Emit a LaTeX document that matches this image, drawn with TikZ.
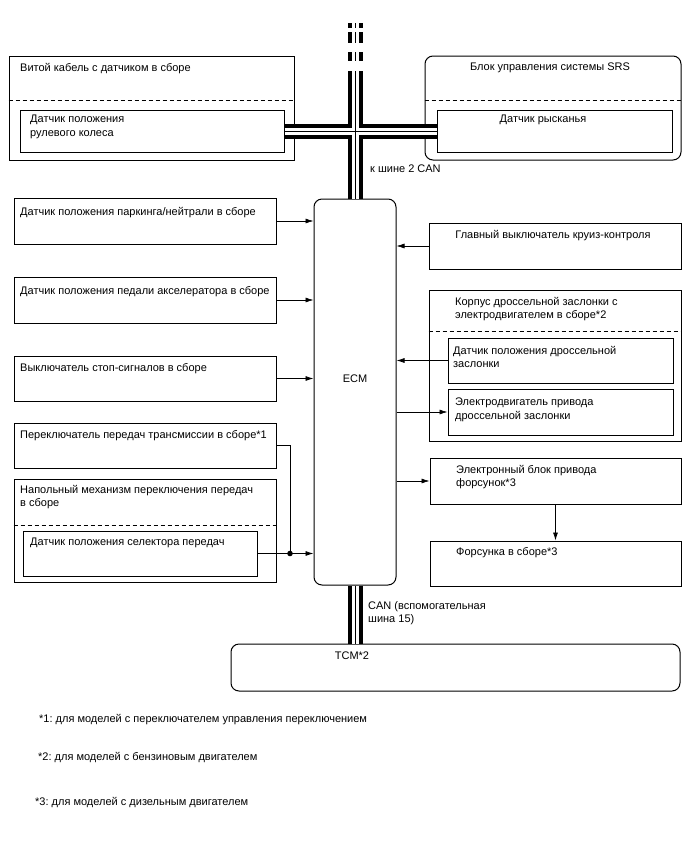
\documentclass[tikz,border=0pt]{standalone}
\usepackage{fontspec}
\setmainfont{Liberation Sans}
\usetikzlibrary{fit,arrows.meta}
\begin{document}
\frenchspacing
\begin{tikzpicture}[x=1pt,y=-1pt,
  bx/.style={draw, line width=1pt, inner sep=0pt},
  rbx/.style={bx, rounded corners=8pt},
  txt/.style={font=\fontsize{11}{13.5}\selectfont, inner sep=0pt, anchor=north west, align=left},
  ctxt/.style={txt, anchor=north, align=center},
  arr/.style={line width=0.7pt, -{Latex[length=8pt,width=5pt]}},
  ln/.style={line width=0.7pt},
  dsh/.style={line width=0.8pt, dash pattern=on 4pt off 3pt}]
\useasboundingbox (0,0) rectangle (688,852);

% boxes
\node[bx, fit={(9,56) (294,160)}] (swc) {};
\node[bx, fit={(20,110) (284,152)}] (swsens) {};
\node[rbx, fit={(425,56) (681,160)}] (srs) {};
\node[bx, fit={(437,110) (672,152)}] (yaw) {};
\node[bx, fit={(14,198) (276,244)}] (pn) {};
\node[bx, fit={(14,277) (276,323)}] (app) {};
\node[bx, fit={(14,356) (276,401)}] (stop) {};
\node[bx, fit={(14,423) (276,468)}] (shift) {};
\node[bx, fit={(14,479) (276,582)}] (floor) {};
\node[bx, fit={(23,531) (257,576)}] (sel) {};
\node[rbx, fit={(314,199) (396,585)}] (ecm) {};
\node[bx, fit={(429,223) (681,269)}] (cruise) {};
\node[bx, fit={(429,290) (681,441)}] (thr) {};
\node[bx, fit={(448,338) (673,383)}] (tps) {};
\node[bx, fit={(448,389) (673,435)}] (tmot) {};
\node[bx, fit={(430,458) (681,504)}] (edu) {};
\node[bx, fit={(430,541) (681,586)}] (inj) {};
\node[rbx, fit={(231,644) (680,691)}] (tcm) {};

% dashed separators
\draw[dsh] (swc.west |- 0,100) -- (swc.east |- 0,100);
\draw[dsh] (srs.west |- 0,100) -- (srs.east |- 0,100);
\draw[dsh] (floor.west |- 0,525) -- (floor.east |- 0,525);
\draw[dsh] (thr.west |- 0,331) -- (thr.east |- 0,331);

% texts
\node[txt] (tswc) at (20,63) {Витой кабель с датчиком в сборе};
\node[txt] (tswsens) at (30,115) {Датчик положения\\рулевого колеса};
\node[ctxt] (tsrs) at (550,63) {Блок управления системы SRS};
\node[ctxt] (tyaw) at (543,115) {Датчик рысканья};
\node[txt] (tcan2) at (370,165) {к шине 2 CAN};
\node[txt] (tpn) at (20,207) {Датчик положения паркинга/нейтрали в сборе};
\node[txt] (tapp) at (20,286) {Датчик положения педали акселератора в сборе};
\node[txt] (tstop) at (20,363) {Выключатель стоп-сигналов в сборе};
\node[txt] (tshift) at (20,430) {Переключатель передач трансмиссии в сборе*1};
\node[txt] (tfloor) at (20,485) {Напольный механизм переключения передач\\в сборе};
\node[txt] (tsel) at (30,538) {Датчик положения селектора передач};
\node[ctxt] (tcruise) at (553,230) {Главный выключатель круиз-контроля};
\node[txt] (tthr) at (455,297) {Корпус дроссельной заслонки с\\электродвигателем в сборе*2};
\node[txt] (ttps) at (453,346) {Датчик положения дроссельной\\заслонки};
\node[txt] (ttmot) at (455,398) {Электродвигатель привода\\дроссельной заслонки};
\node[txt] (tedu) at (456,465) {Электронный блок привода\\форсунок*3};
\node[txt] (tinj) at (456,547) {Форсунка в сборе*3};
\node[txt, anchor=center] (tecm) at (355,379) {ECM};
\node[txt] (tcan15) at (368,601) {CAN (вспомогательная\\шина 15)};
\node[ctxt] (ttcm) at (352,652) {TCM*2};
\node[txt] (f1) at (39,714) {*1: для моделей с переключателем управления переключением};
\node[txt] (f2) at (38,752) {*2: для моделей с бензиновым двигателем};
\node[txt] (f3) at (35,797) {*3: для моделей с дизельным двигателем};

% connectors
\draw[arr] (pn.east) -- (pn.east -| ecm.west);
\draw[arr] (app.east) -- (app.east -| ecm.west);
\draw[arr] (stop.east) -- (stop.east -| ecm.west);
\draw[arr] (cruise.west) -- (cruise.west -| ecm.east);
\draw[arr] (tps.west) -- (tps.west -| ecm.east);
\draw[arr] (ecm.east |- tmot.west) -- (tmot.west);
\draw[arr] (ecm.east |- edu.west) -- (edu.west);
\draw[arr] (edu.south) -- (inj.north);
\coordinate (jn) at (sel.east -| 290,0);
\draw[arr] (sel.east) -- (sel.east -| ecm.west);
\draw[ln] (shift.east) -| (jn);
\fill (jn) circle (2.8pt);

% CAN buses (triple line)
\coordinate (bt) at (355,71);
\coordinate (bd1) at (355,23);
\coordinate (bd2) at (355,61);
\foreach \w/\c in {15pt/black, 7pt/white, 1pt/black} {
  \draw[line width=\w, \c] (bt) -- (ecm.north);
  \draw[line width=\w, \c] (swsens.east) -- (yaw.west);
  \draw[line width=\w, \c] (ecm.south) -- (ecm.south |- tcm.north);
  \draw[line width=\w, \c, dash pattern=on 5pt off 4pt on 11pt off 9pt on 9pt off 100pt] (bd1) -- (bd2);
}
\end{tikzpicture}
\end{document}
